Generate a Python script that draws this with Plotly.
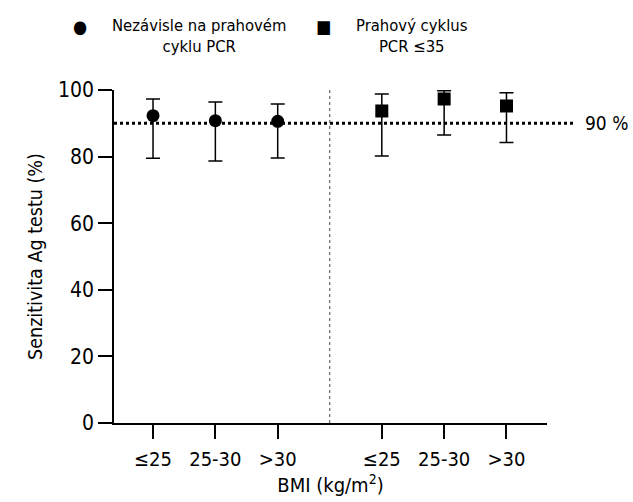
import plotly.graph_objects as go

categories = ["≤25", "25-30", ">30"]
pos_left = [1, 2, 3]
pos_right = [4.67, 5.67, 6.67]

indep_vals = [92.3, 90.8, 90.6]
indep_upper = [97.3, 96.4, 95.8]
indep_lower = [79.5, 78.7, 79.6]

thr_vals = [93.7, 97.3, 95.2]
thr_upper = [98.8, 99.8, 99.2]
thr_lower = [80.2, 86.5, 84.2]

ref_line = 90
y_ticks = [0, 20, 40, 60, 80, 100]

FONT = "DejaVu Sans Condensed"

def errs(v, up, lo):
    return [u - x for u, x in zip(up, v)], [x - l for x, l in zip(v, lo)]

fig = go.Figure()
for xs, v, up, lo, sym in [(pos_left, indep_vals, indep_upper, indep_lower, "circle"),
                           (pos_right, thr_vals, thr_upper, thr_lower, "square")]:
    e_up, e_lo = errs(v, up, lo)
    fig.add_trace(go.Scatter(
        x=xs, y=v, mode="markers",
        marker=dict(symbol=sym, size=13, color="black"),
        error_y=dict(type="data", symmetric=False, array=e_up, arrayminus=e_lo,
                     color="black", thickness=1.5, width=7),
        cliponaxis=False, showlegend=False))

# 90 % reference line
fig.add_shape(type="line", xref="paper", yref="y", x0=0, x1=1.06, y0=ref_line, y1=ref_line,
              line=dict(color="black", width=3, dash="dot"))
# group separator
sep = (pos_left[-1] + pos_right[0]) / 2
fig.add_shape(type="line", xref="x", yref="y", x0=sep, x1=sep, y0=0, y1=100,
              line=dict(color="#444", width=1, dash="dot"))

fig.add_annotation(xref="paper", yref="y", x=(583 - 114) / 433, y=ref_line, text="90 %",
                   showarrow=False, xanchor="left", font=dict(size=19, family=FONT, color="black"))

# legend
def px_x(p):
    return (p - 114) / 433

def px_y(p):
    return (423 - p) / 333

fig.add_annotation(xref="paper", yref="paper", x=px_x(80), y=px_y(27), xanchor="center",
                   yanchor="middle", text="●", showarrow=False, font=dict(size=18, color="black"))
fig.add_annotation(xref="paper", yref="paper", x=px_x(199), y=px_y(36), xanchor="center",
                   yanchor="middle", text="Nezávisle na prahovém<br>cyklu PCR", showarrow=False,
                   align="center", font=dict(size=16.5, family=FONT, color="black"))
fig.add_annotation(xref="paper", yref="paper", x=px_x(323), y=px_y(27), xanchor="center",
                   yanchor="middle", text="■", showarrow=False, font=dict(size=18, color="black"))
fig.add_annotation(xref="paper", yref="paper", x=px_x(412), y=px_y(36), xanchor="center",
                   yanchor="middle", text="Prahový cyklus<br>PCR ≤35", showarrow=False,
                   align="center", font=dict(size=16.5, family=FONT, color="black"))

fig.update_layout(
    width=633, height=502,
    margin=dict(l=114, r=86, t=90, b=79),
    plot_bgcolor="white", paper_bgcolor="white",
    font=dict(family=FONT, size=21, color="black"),
    xaxis=dict(range=[0.374, 7.32], tickvals=pos_left + pos_right,
               ticktext=categories + categories, showline=True, linecolor="black",
               linewidth=1.5, ticks="outside", ticklen=14, tickwidth=1.5, tickcolor="black",
               showgrid=False, zeroline=False, ticklabelstandoff=3,
               tickfont=dict(size=20),
               title=dict(text="BMI (kg/m<sup>2</sup>)", standoff=2, font=dict(size=20))),
    yaxis=dict(range=[0, 100], tickvals=y_ticks, showline=True, linecolor="black",
               linewidth=1.5, ticks="outside", ticklen=14, tickwidth=1.5, tickcolor="black",
               showgrid=False, zeroline=False, tickfont=dict(size=21),
               title=dict(text="Senzitivita Ag testu (%)", standoff=10, font=dict(size=19.5))),
)

fig.write_html("out.html")
